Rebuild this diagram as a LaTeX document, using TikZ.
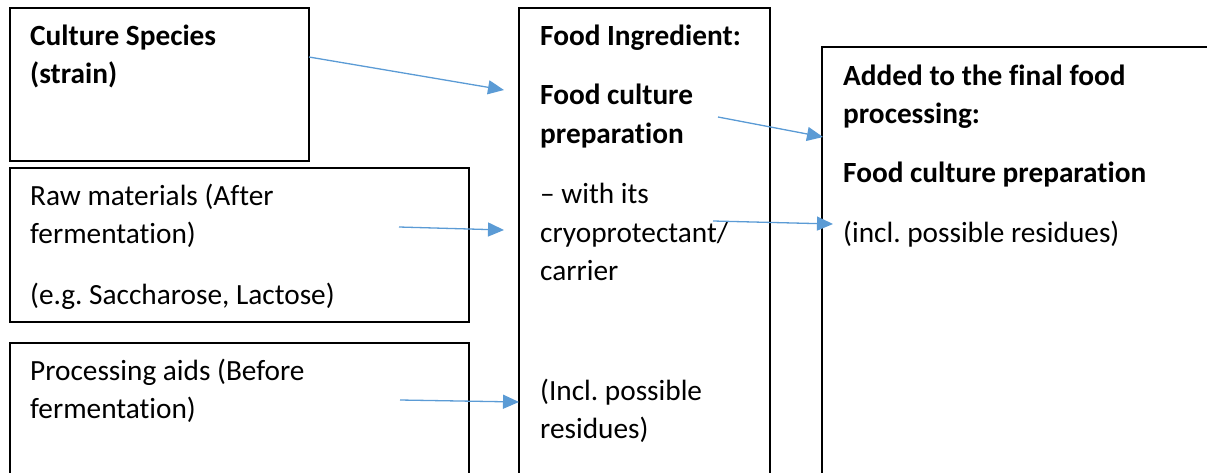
\documentclass[tikz,border=0pt]{standalone}
\usepackage{fontspec}
\setmainfont{Carlito}[Ligatures={NoCommon}]
\usetikzlibrary{arrows.meta}
\definecolor{arrowblue}{HTML}{5B9BD5}
\frenchspacing
\begin{document}
\begin{tikzpicture}[x=1pt,y=-1pt,
  boxframe/.style={draw=black, line width=2pt, fill=none, inner sep=0, anchor=north west},
  txt/.style={anchor=base west, inner sep=0, font=\fontsize{29.3}{34}\selectfont\frenchspacing},
  btxt/.style={txt, font=\fontsize{29.3}{34}\selectfont\bfseries\frenchspacing},
  conn/.style={draw=arrowblue, line width=1.3pt, -{Triangle[length=16pt,width=14pt]}}]
\useasboundingbox (0,0) rectangle (1207,472);
\clip (0,0) rectangle (1207,472);
% boxes
\node[boxframe, minimum width=299pt, minimum height=153pt] (species) at (9,7) {};
\node[boxframe, minimum width=459pt, minimum height=154pt] (raw) at (9,167) {};
\node[boxframe, minimum width=459pt, minimum height=160pt] (aids) at (9,342) {};
\node[boxframe, minimum width=251pt, minimum height=500pt] (ingredient) at (518,7) {};
\node[boxframe, minimum width=420pt, minimum height=460pt] (final) at (821,46) {};
% texts
\node[btxt] (t1) at (30,45) {Culture Species};
\node[btxt] (t2) at (30,83) {(strain)};
\node[txt] (t3) at (30,205) {Raw materials (After};
\node[txt] (t4) at (30,243) {fermentation)};
\node[txt] (t5) at (30,304) {(e.g. Saccharose, Lactose)};
\node[txt] (t6) at (30,380) {Processing aids (Before};
\node[txt] (t7) at (30,418) {fermentation)};
\node[btxt] (t8) at (540,45) {Food Ingredient:};
\node[btxt] (t9) at (540,104) {Food culture};
\node[btxt] (t10) at (540,143) {preparation};
\node[txt] (t11) at (540,203) {– with its};
\node[txt] (t12) at (540,242) {cryoprotectant/};
\node[txt] (t13) at (540,280) {carrier};
\node[txt] (t14) at (540,400) {(Incl. possible};
\node[txt] (t15) at (540,438) {residues)};
\node[btxt] (t16) at (843,85) {Added to the final food};
\node[btxt] (t17) at (843,123) {processing:};
\node[btxt] (t18) at (843,182) {Food culture preparation};
\node[txt] (t19) at (843,242) {(incl. possible residues)};
% connector ends
\coordinate (s1) at (309,57);  \coordinate (e1) at (504,90);
\coordinate (s2) at (399,227); \coordinate (e2) at (504,230);
\coordinate (s3) at (400,400); \coordinate (e3) at (519,402);
\coordinate (s4) at (718,117); \coordinate (e4) at (823,137);
\coordinate (s5) at (713,221); \coordinate (e5) at (833,224);
\draw[conn] (s1) -- (e1);
\draw[conn] (s2) -- (e2);
\draw[conn] (s3) -- (e3);
\draw[conn] (s4) -- (e4);
\draw[conn] (s5) -- (e5);
\end{tikzpicture}
\end{document}
